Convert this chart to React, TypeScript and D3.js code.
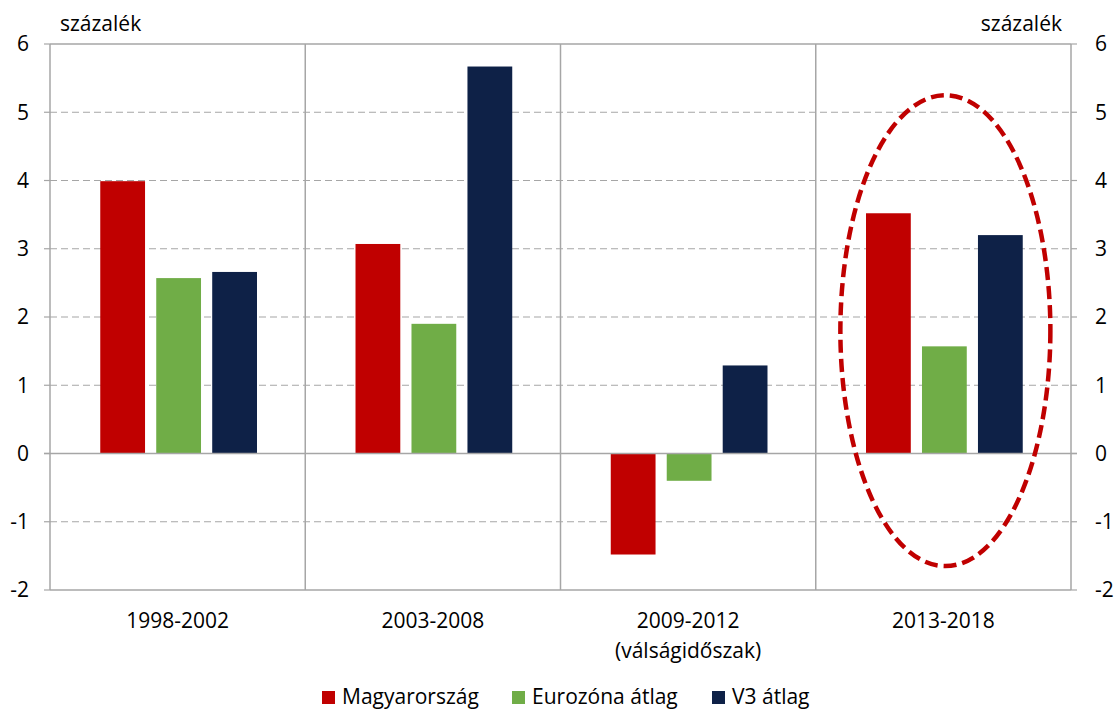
import React, { useRef, useEffect } from 'react';
import * as d3 from 'd3';

const periods = ['1998-2002', '2003-2008', '2009-2012', '2013-2018'];
const periodSub = ['', '', '(válságidőszak)', ''];
const seriesNames = ['Magyarország', 'Eurozóna átlag', 'V3 átlag'];
const seriesColors = ['#c00000', '#70ad47', '#0e2147'];
const hungary = [3.99, 3.07, -1.48, 3.52];
const eurozone = [2.57, 1.9, -0.4, 1.57];
const v3 = [2.66, 5.67, 1.29, 3.2];
const yTicks = [-2, -1, 0, 1, 2, 3, 4, 5, 6];
const unitLabel = 'százalék';
// highlighted period and the vertical extent of the dashed ellipse (in %)
const highlight = { period: '2013-2018', top: 5.25, bottom: -1.65 };

const W = 1117;
const H = 711;
const FONT = '"Open Sans", sans-serif';

const App: React.FC = () => {
  const svgRef = useRef<SVGSVGElement>(null);

  useEffect(() => {
    if (!svgRef.current) return;
    const svg = d3.select(svgRef.current);
    svg.selectAll('*').remove();

    const left = 50, right = 1071, top = 44, bottom = 590;
    const grid = '#a6a6a6';

    const x0 = d3.scaleBand<string>().domain(periods).range([left, right]).padding(0);
    const x1 = d3.scaleBand<string>().domain(seriesNames).range([0, x0.bandwidth()])
      .paddingInner(0.2).paddingOuter(0.88);
    const y = d3.scaleLinear().domain([-2, 6]).range([bottom, top]);

    const rows = periods.map((p, i) => ({ period: p, values: [hungary[i], eurozone[i], v3[i]] }));

    // gridlines
    svg.append('g')
      .selectAll('line')
      .data(yTicks.filter(t => t !== 0 && t !== -2 && t !== 6))
      .join('line')
      .attr('x1', left).attr('x2', right)
      .attr('y1', d => y(d)).attr('y2', d => y(d))
      .attr('stroke', grid).attr('stroke-width', 1.2)
      .attr('stroke-dasharray', '7,4');

    // frame top / bottom
    [6, -2].forEach(t => {
      svg.append('line').attr('x1', left).attr('x2', right)
        .attr('y1', y(t)).attr('y2', y(t))
        .attr('stroke', grid).attr('stroke-width', 1.5);
    });

    // group dividers and side axes
    const divs = [left, ...periods.slice(1).map(p => x0(p)!), right];
    svg.append('g').selectAll('line').data(divs).join('line')
      .attr('x1', d => d).attr('x2', d => d)
      .attr('y1', y(6)).attr('y2', y(-2))
      .attr('stroke', grid).attr('stroke-width', 1.5);

    // tick marks
    svg.append('g').selectAll('line').data(yTicks).join('line')
      .attr('x1', left - 6).attr('x2', left)
      .attr('y1', d => y(d)).attr('y2', d => y(d))
      .attr('stroke', grid).attr('stroke-width', 1.2);
    svg.append('g').selectAll('line').data(yTicks).join('line')
      .attr('x1', right).attr('x2', right + 6)
      .attr('y1', d => y(d)).attr('y2', d => y(d))
      .attr('stroke', grid).attr('stroke-width', 1.2);

    // bars
    const g = svg.append('g').selectAll('g').data(rows).join('g')
      .attr('transform', d => `translate(${x0(d.period)! + 1},0)`);
    g.selectAll('rect')
      .data(d => d.values.map((v, i) => ({ v, name: seriesNames[i], color: seriesColors[i] })))
      .join('rect')
      .attr('x', d => x1(d.name)!)
      .attr('width', x1.bandwidth())
      .attr('y', d => y(Math.max(0, d.v)))
      .attr('height', d => Math.abs(y(d.v) - y(0)))
      .attr('fill', d => d.color);

    // zero line
    svg.append('line').attr('x1', left - 6).attr('x2', right + 6)
      .attr('y1', y(0)).attr('y2', y(0))
      .attr('stroke', grid).attr('stroke-width', 1.5);

    // tick labels
    svg.append('g').selectAll('text').data(yTicks).join('text')
      .attr('x', 29).attr('y', d => y(d)).attr('dy', '0.35em')
      .attr('text-anchor', 'end')
      .attr('font-family', FONT).attr('font-size', 21).attr('fill', '#000')
      .text(d => d);
    svg.append('g').selectAll('text').data(yTicks).join('text')
      .attr('x', 1095).attr('y', d => y(d)).attr('dy', '0.35em')
      .attr('text-anchor', 'start')
      .attr('font-family', FONT).attr('font-size', 21).attr('fill', '#000')
      .text(d => d);

    // unit labels
    svg.append('text').attr('x', 60).attr('y', 31)
      .attr('font-family', FONT).attr('font-size', 21).attr('fill', '#000')
      .text(unitLabel);
    svg.append('text').attr('x', 1062).attr('y', 31).attr('text-anchor', 'end')
      .attr('font-family', FONT).attr('font-size', 21).attr('fill', '#000')
      .text(unitLabel);

    // category labels
    const cl = svg.append('g').selectAll('text').data(periods).join('text')
      .attr('text-anchor', 'middle')
      .attr('font-family', FONT).attr('font-size', 21).attr('fill', '#000');
    cl.append('tspan')
      .attr('x', d => x0(d)! + x0.bandwidth() / 2).attr('y', 628)
      .text(d => d);
    cl.append('tspan')
      .attr('x', d => x0(d)! + x0.bandwidth() / 2).attr('y', 658)
      .text((d, i) => periodSub[i]);

    // highlight ellipse
    const cx = x0(highlight.period)! + x0.bandwidth() / 2 + 2;
    svg.append('ellipse')
      .attr('cx', cx)
      .attr('cy', (y(highlight.top) + y(highlight.bottom)) / 2)
      .attr('rx', 105)
      .attr('ry', (y(highlight.bottom) - y(highlight.top)) / 2)
      .attr('fill', 'none')
      .attr('stroke', '#c00000')
      .attr('stroke-width', 4.5)
      .attr('stroke-dasharray', '13,6');

    // legend
    const legendX = [322, 512, 712];
    const lg = svg.append('g').selectAll('g').data(seriesNames).join('g')
      .attr('transform', (d, i) => `translate(${legendX[i]},691)`);
    lg.append('rect').attr('width', 13).attr('height', 13)
      .attr('fill', (d, i) => seriesColors[i]);
    lg.append('text').attr('x', 20).attr('y', 13)
      .attr('font-family', FONT).attr('font-size', 21).attr('fill', '#000')
      .text(d => d);
  }, []);

  return (
    <svg ref={svgRef} width={W} height={H}
      style={{ position: 'absolute', left: 0, top: 0, display: 'block', background: '#fff' }} />
  );
};

export default App;
